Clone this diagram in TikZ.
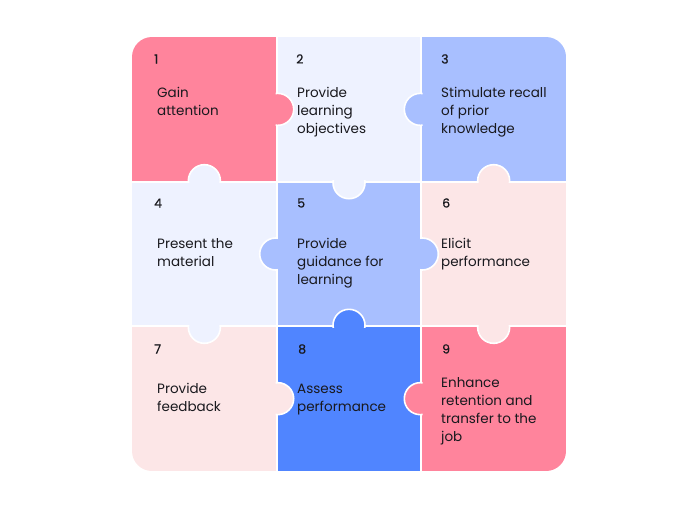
\documentclass[tikz,border=0pt]{standalone}
\usepackage{fontspec}
\setmainfont{Poppins}
\usetikzlibrary{positioning}
\definecolor{rosepink}{RGB}{255,132,156}
\definecolor{paleblue}{RGB}{238,242,255}
\definecolor{softblue}{RGB}{168,191,255}
\definecolor{blushpink}{RGB}{252,230,231}
\definecolor{brightblue}{RGB}{80,133,255}
\definecolor{inkblack}{RGB}{25,25,30}

\tikzset{
  numlabel/.style={anchor=base west,inner sep=0pt,font=\fontsize{12.5}{14}\selectfont\addfontfeature{FakeBold=0.6},text=inkblack},
  steplabel/.style={anchor=base west,inner sep=0pt,align=left,font=\fontsize{13.5}{18}\selectfont,text=inkblack},
  seam/.style={white,line width=1.8pt},
}

\begin{document}
\begin{tikzpicture}[x=1pt,y=-1pt]
  \useasboundingbox (0,0) rectangle (700,504);
  % the nine pieces
  \begin{scope}
    \clip[rounded corners=20pt] (132,37) rectangle (566,471);
    \foreach \c/\x/\y in {rosepink/132/37, paleblue/276.7/37, softblue/421.3/37,
                          paleblue/132/181.7, softblue/276.7/181.7, blushpink/421.3/181.7,
                          blushpink/132/326.3, brightblue/276.7/326.3, rosepink/421.3/326.3}
      \fill[\c] (\x,\y) rectangle ++(144.7,144.7);
  \end{scope}
  \draw[seam] (276.7,37) -- (276.7,471);
  \draw[seam] (421.3,37) -- (421.3,471);
  \draw[seam] (132,181.7) -- (566,181.7);
  \draw[seam] (132,326.3) -- (566,326.3);
  % tabs: colour / centre / clip box of the piece they reach into
  \foreach \c/\cx/\cy/\ax/\ay/\bx/\by in {
      rosepink/277.7/109.35/275.5/37/421.3/181.7,
      softblue/420.3/109.35/276.7/37/422.5/181.7,
      paleblue/204.35/180.7/132/37/276.7/182.9,
      paleblue/349/182.7/276.7/180.5/421.3/326.3,
      blushpink/493.65/180.7/421.3/37/566/182.9,
      softblue/275.7/254/132/181.7/277.9/326.3,
      softblue/422.3/254/420.1/181.7/566/326.3,
      paleblue/204.35/327.3/132/325.1/276.7/471,
      brightblue/349/325.3/276.7/181.7/421.3/327.5,
      blushpink/493.65/327.3/421.3/325.1/566/471,
      blushpink/277.7/398.65/275.5/326.3/421.3/471,
      rosepink/420.3/398.65/276.7/326.3/422.5/471}{
    \begin{scope}
      \clip (\ax,\ay) rectangle (\bx,\by);
      \filldraw[fill=\c,draw=white,line width=1.6pt] (\cx,\cy) circle[radius=16];
    \end{scope}
  }
  % numbers
  \node[numlabel] (n1) at (154,63.5) {1};
  \node[numlabel] (n2) at (296,63.5) {2};
  \node[numlabel] (n3) at (441,63.5) {3};
  \node[numlabel] (n4) at (154,207.5) {4};
  \node[numlabel] (n5) at (297,207.5) {5};
  \node[numlabel] (n6) at (442,207.5) {6};
  \node[numlabel] (n7) at (154,353.5) {7};
  \node[numlabel] (n8) at (298,353.5) {8};
  \node[numlabel] (n9) at (442,353.5) {9};
  % steps (base = last line)
  \node[steplabel] (s1) at (157,115) {Gain\\attention};
  \node[steplabel] (s2) at (297,133) {Provide\\learning\\objectives};
  \node[steplabel] (s3) at (441,133) {Stimulate recall\\of prior\\knowledge};
  \node[steplabel] (s4) at (157,266) {Present the\\material};
  \node[steplabel] (s5) at (297,284) {Provide\\guidance for\\learning};
  \node[steplabel] (s6) at (441,266) {Elicit\\performance};
  \node[steplabel] (s7) at (157,411) {Provide\\feedback};
  \node[steplabel] (s8) at (297,411) {Assess\\performance};
  \node[steplabel] (s9) at (441,441) {Enhance\\retention and\\transfer to the\\job};
\end{tikzpicture}
\end{document}
